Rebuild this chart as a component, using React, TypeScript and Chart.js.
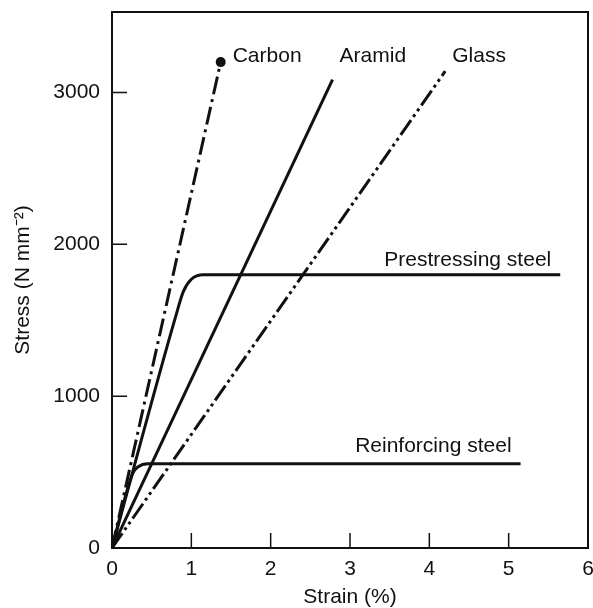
import React, { useEffect, useRef } from "react";
import { Chart, registerables } from "chart.js";

Chart.register(...registerables);

// ---- Data ----
const carbonStrain = [0, 1.37];
const carbonStress = [0, 3200];

const aramidStrain = [0, 2.78];
const aramidStress = [0, 3085];

const glassStrain = [0, 4.2];
const glassStress = [0, 3140];

const prestressStrain = [0, 0.8, 0.9, 1.0, 1.15, 5.65];
const prestressStress = [0, 1520, 1690, 1770, 1800, 1800];

const reinforceStrain = [0, 0.26, 0.33, 0.45, 5.15];
const reinforceStress = [0, 490, 535, 555, 555];

const seriesNames = ["Carbon", "Aramid", "Glass", "Prestressing steel", "Reinforcing steel"];

const xTickValues = [0, 1, 2, 3, 4, 5, 6];
const yTickValues = [0, 1000, 2000, 3000];
const xInnerTicks = [1, 2, 3, 4, 5];
const yInnerTicks = [1000, 2000, 3000];

const xTitle = "Strain (%)";
const yTitle = "Stress (N mm\u207B\u00B2)";

const FONT = "'Liberation Sans', Arial, Helvetica, sans-serif";
const INK = "#111111";
const FS = 21;

const toPoints = (xs: number[], ys: number[]) => xs.map((x, i) => ({ x, y: ys[i] }));

// label placement relative to each series' last point (pixels)
const labelPlacement = [
  { dx: 12, dy: -6, align: "left" },
  { dx: 7, dy: -23, align: "left" },
  { dx: 7, dy: -15, align: "left" },
  { dx: -9, dy: -14, align: "right" },
  { dx: -9, dy: -18, align: "right" },
];

const decorPlugin = {
  id: "decor",
  afterDatasetsDraw(chart: any) {
    const { ctx, chartArea, scales } = chart;
    const { left, right, top, bottom } = chartArea;
    ctx.save();
    ctx.strokeStyle = INK;
    ctx.lineWidth = 2;
    ctx.strokeRect(left, top, right - left, bottom - top);
    // inward tick marks
    ctx.lineWidth = 1.5;
    ctx.beginPath();
    xInnerTicks.forEach((v) => {
      const x = scales.x.getPixelForValue(v);
      ctx.moveTo(x, bottom);
      ctx.lineTo(x, bottom - 15);
    });
    yInnerTicks.forEach((v) => {
      const y = scales.y.getPixelForValue(v);
      ctx.moveTo(left, y);
      ctx.lineTo(left + 15, y);
    });
    ctx.stroke();
    // series labels
    ctx.fillStyle = INK;
    ctx.font = `${FS}px ${FONT}`;
    ctx.textBaseline = "middle";
    chart.data.datasets.forEach((ds: any, i: number) => {
      const meta = chart.getDatasetMeta(i);
      const last = meta.data[meta.data.length - 1];
      const p = labelPlacement[i];
      ctx.textAlign = p.align;
      ctx.fillText(seriesNames[i], last.x + p.dx, last.y + p.dy);
    });
    ctx.restore();
  },
};

export default function App() {
  const ref = useRef<HTMLCanvasElement | null>(null);

  useEffect(() => {
    if (!ref.current) return;
    const base = {
      borderColor: INK,
      backgroundColor: INK,
      borderWidth: 3,
      showLine: true,
      fill: false,
      pointRadius: 0,
      borderCapStyle: "butt",
    };
    const chart = new Chart(ref.current, {
      type: "scatter",
      data: {
        datasets: [
          {
            ...base,
            label: seriesNames[0],
            data: toPoints(carbonStrain, carbonStress),
            borderDash: [18, 5, 3, 5],
            pointRadius: [0, 5],
            pointBackgroundColor: INK,
            pointBorderWidth: 0,
          },
          { ...base, label: seriesNames[1], data: toPoints(aramidStrain, aramidStress) },
          {
            ...base,
            label: seriesNames[2],
            data: toPoints(glassStrain, glassStress),
            borderDash: [18, 4, 3, 4, 3, 4],
          },
          {
            ...base,
            label: seriesNames[3],
            data: toPoints(prestressStrain, prestressStress),
            cubicInterpolationMode: "monotone",
          },
          {
            ...base,
            label: seriesNames[4],
            data: toPoints(reinforceStrain, reinforceStress),
            cubicInterpolationMode: "monotone",
          },
        ],
      } as any,
      options: {
        animation: false,
        responsive: false,
        maintainAspectRatio: false,
        layout: { padding: { top: 12, right: 4, left: 0, bottom: 0 } },
        plugins: { legend: { display: false }, tooltip: { enabled: false } },
        scales: {
          x: {
            type: "linear",
            min: 0,
            max: 6,
            afterBuildTicks: (s: any) => {
              s.ticks = xTickValues.map((v) => ({ value: v }));
            },
            afterFit: (s: any) => {
              s.height = 60;
              s.paddingLeft = 0;
              s.paddingRight = 0;
            },
            grid: { display: false, drawTicks: false },
            border: { display: false },
            ticks: {
              padding: 9,
              maxRotation: 0,
              autoSkip: false,
              color: INK,
              font: { size: FS, family: FONT },
              callback: (v: any) => String(v),
            },
            title: {
              display: true,
              text: xTitle,
              color: INK,
              font: { size: FS, family: FONT, lineHeight: 1.0 },
              padding: { top: 0, bottom: 0 },
            },
          },
          y: {
            type: "linear",
            min: 0,
            max: 3530,
            afterBuildTicks: (s: any) => {
              s.ticks = yTickValues.map((v) => ({ value: v }));
            },
            afterFit: (s: any) => {
              s.width = 112;
              s.paddingTop = 0;
              s.paddingBottom = 0;
            },
            grid: { display: false, drawTicks: false },
            border: { display: false },
            ticks: {
              padding: 12,
              autoSkip: false,
              color: INK,
              font: { size: FS, family: FONT },
              callback: (v: any) => String(v),
            },
            title: {
              display: true,
              text: yTitle,
              color: INK,
              font: { size: FS, family: FONT },
              padding: { top: 11, bottom: 0 },
            },
          },
        },
      } as any,
      plugins: [decorPlugin],
    });
    return () => chart.destroy();
  }, []);

  return (
    <div style={{ position: "fixed", left: 0, top: 0, width: 593, height: 608, background: "#fff" }}>
      <canvas ref={ref} width={593} height={608} style={{ display: "block", width: 593, height: 608 }} />
    </div>
  );
}
